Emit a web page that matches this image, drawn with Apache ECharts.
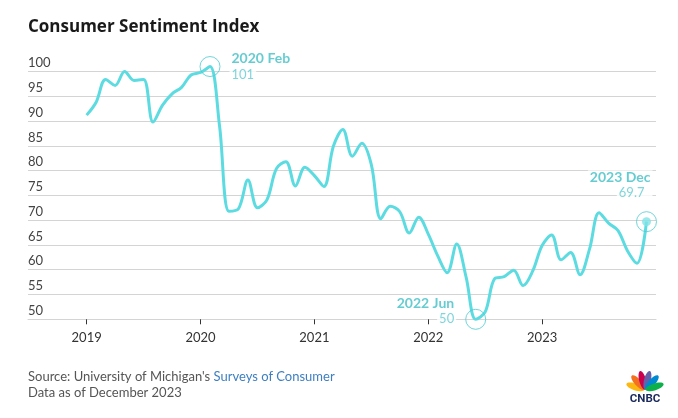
<!DOCTYPE html>
<html>
<head>
<meta charset="utf-8">
<script src="https://cdn.jsdelivr.net/npm/echarts/dist/echarts.min.js"></script>
<style>
html,body{margin:0;padding:0;background:#fff;}
#chart{width:678px;height:418px;}
</style>
</head>
<body>
<div id="chart"></div>
<script>
// ---- data ----
var years = [2019, 2020, 2021, 2022, 2023];
var v2019 = [91.2, 93.8, 98.4, 97.2, 100.0, 98.2, 98.4, 89.8, 93.2, 95.5, 96.8, 99.3];
var v2020 = [99.8, 101.0, 89.1, 71.8, 72.3, 78.1, 72.5, 74.1, 80.4, 81.8, 76.9, 80.7];
var v2021 = [79.0, 76.8, 84.9, 88.3, 82.9, 85.5, 81.2, 70.3, 72.8, 71.7, 67.4, 70.6];
var v2022 = [67.2, 62.8, 59.4, 65.2, 58.4, 50.0, 51.5, 58.2, 58.6, 59.9, 56.8, 59.7];
var v2023 = [64.9, 67.0, 62.0, 63.5, 59.0, 64.2, 71.5, 69.4, 67.9, 63.8, 61.3, 69.7];
var yTicks = [50, 55, 60, 65, 70, 75, 80, 85, 90, 95, 100];
var highlights = [
  {label: '2020 Feb', year: 2020, month: 2, value: 101},
  {label: '2022 Jun', year: 2022, month: 6, value: 50},
  {label: '2023 Dec', year: 2023, month: 12, value: 69.7}
];

var byYear = [v2019, v2020, v2021, v2022, v2023];
var lineData = [];
byYear.forEach(function (arr, yi) {
  arr.forEach(function (v, mi) {
    lineData.push([years[yi] + mi / 12, v]);
  });
});
function pos(h) { return [h.year + (h.month - 1) / 12, h.value]; }

var LINE = '#5cdbe1';
var TEAL = '#3fbfc6';
var TEAL2 = '#5ecbd1';
var FONT = 'Lato';

var chart = echarts.init(document.getElementById('chart'), null, {renderer: 'canvas'});

var richBase = {
  b: {fontFamily: FONT, fontWeight: 'bold', fontSize: 14, color: TEAL, lineHeight: 16, backgroundColor: '#fff', padding: [0, 2]},
  v: {fontFamily: FONT, fontSize: 13, color: TEAL2, lineHeight: 16, backgroundColor: '#fff', padding: [0, 2]}
};

var hlData = [
  {value: pos(highlights[0]), label: {show: true, position: 'right', distance: 9,
    formatter: '{b|' + highlights[0].label + '}\n{v|' + highlights[0].value + '}', rich: richBase}},
  {value: pos(highlights[1]), label: {show: true, position: 'left', distance: 9, offset: [0, -8],
    formatter: '{b|' + highlights[1].label + '}\n{v|' + highlights[1].value + '}',
    rich: {b: Object.assign({}, richBase.b, {align: 'right'}), v: Object.assign({}, richBase.v, {align: 'right'})}}},
  {value: pos(highlights[2]), label: {show: true, position: 'top', distance: 10, align: 'right', offset: [6, 0],
    formatter: '{b|' + highlights[2].label + '}\n{v|' + highlights[2].value + '}',
    rich: {b: Object.assign({}, richBase.b, {align: 'right'}), v: Object.assign({}, richBase.v, {align: 'right', padding: [0, 8, 0, 2]})}}}
];

// CNBC peacock petals (decorative)
var petalColors = ['#fcb711', '#f37021', '#cc004c', '#6460aa', '#0089d0', '#0db14b'];
var petalAngles = [-72, -43, -14, 14, 43, 72];
var baseX = 645, baseY = 390;
var logo = petalAngles.map(function (a, i) {
  var r = a * Math.PI / 180;
  return {
    type: 'ellipse',
    x: baseX + 10 * Math.sin(r), y: baseY - 10 * Math.cos(r),
    rotation: -r,
    shape: {cx: 0, cy: 0, rx: 3.4, ry: 9.5},
    style: {fill: petalColors[i]}
  };
});

var option = {
  backgroundColor: '#fff',
  animation: false,
  grid: {left: 28, right: 22, top: 71.5, bottom: 98.7, containLabel: false},
  xAxis: {
    type: 'value',
    min: 2018.485,
    max: 2024,
    axisLine: {show: true, lineStyle: {color: '#d4d4d4', width: 1}},
    axisTick: {show: true, customValues: years, length: 5, lineStyle: {color: '#333', width: 1}},
    axisLabel: {show: true, customValues: years, margin: 12, color: '#333', fontSize: 13, fontFamily: FONT,
      formatter: function (v) { return String(Math.round(v)); }},
    splitLine: {show: false}
  },
  yAxis: {
    type: 'value',
    min: 50, max: 100, interval: 5,
    axisLine: {show: false},
    axisTick: {show: false},
    axisLabel: {inside: true, margin: 0, verticalAlign: 'bottom', padding: [0, 0, 2, 0],
      color: '#444', fontSize: 13, fontFamily: FONT},
    splitLine: {show: true, lineStyle: {color: '#d4d4d4', width: 1}}
  },
  series: [
    {
      type: 'line', data: lineData, smooth: 0.35, showSymbol: false, symbol: 'none', clip: false,
      lineStyle: {color: LINE, width: 3}, z: 2
    },
    {
      type: 'scatter', data: [pos(highlights[2])], symbol: 'circle', symbolSize: 9, clip: false,
      itemStyle: {color: '#7fe2e7'}, z: 3, silent: true
    },
    {
      type: 'scatter', data: hlData, symbol: 'circle', symbolSize: 20, clip: false,
      itemStyle: {color: 'rgba(0,0,0,0)', borderColor: '#4ccad1', borderWidth: 1}, z: 4, silent: true
    }
  ],
  graphic: [
    {type: 'text', x: 28, y: 27, style: {text: 'Consumer Sentiment Index', fontFamily: 'Open Sans', fontWeight: 'bold', fontSize: 17, fill: '#1a1a1a', verticalAlign: 'middle'}},
    {type: 'text', x: 28, y: 377, style: {
      text: "{g|Source: University of Michigan's }{l|Surveys of Consumer}",
      verticalAlign: 'middle',
      rich: {g: {fontFamily: FONT, fontSize: 13, fill: '#555'}, l: {fontFamily: FONT, fontSize: 13, fill: '#3d7fc1'}}}},
    {type: 'text', x: 28, y: 393, style: {text: 'Data as of December 2023', fontFamily: FONT, fontSize: 13, fill: '#555', verticalAlign: 'middle'}},
    {type: 'group', children: logo},
    {type: 'text', x: 645, y: 399, style: {text: 'CNBC', fontFamily: 'Roboto', fontWeight: 'bold', fontSize: 11.5, fill: '#1b2a5c', align: 'center', verticalAlign: 'middle'}}
  ]
};
chart.setOption(option);
</script>
</body>
</html>
